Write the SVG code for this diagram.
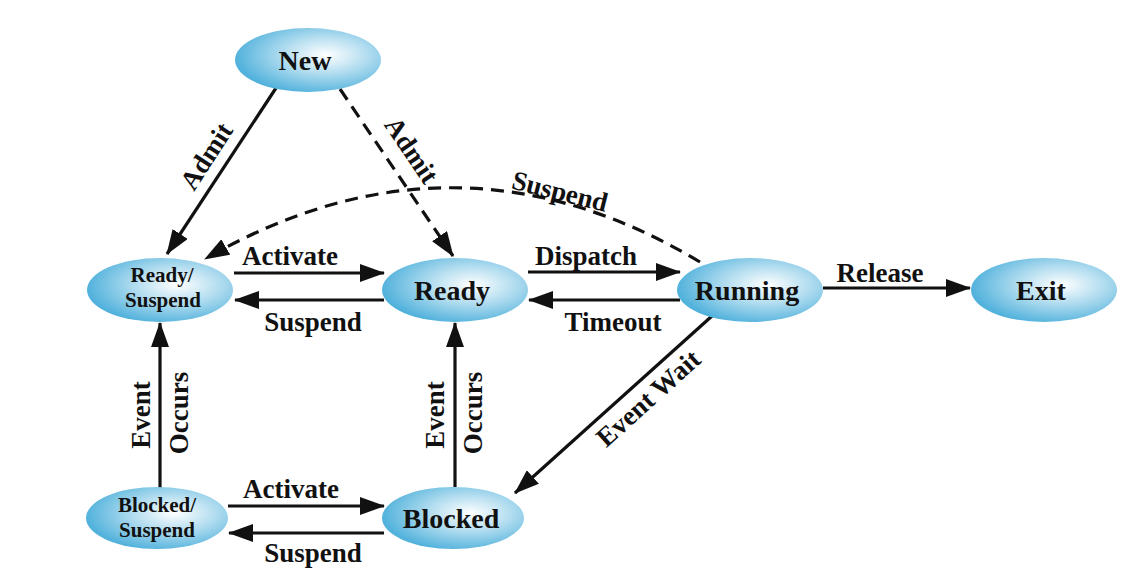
<svg xmlns="http://www.w3.org/2000/svg" width="1146" height="580" viewBox="0 0 1146 580">
<defs>
<radialGradient id="g" cx="0.62" cy="0.42" r="0.62" fx="0.62" fy="0.42">
<stop offset="0" stop-color="#ffffff"/>
<stop offset="0.45" stop-color="#b5def0"/>
<stop offset="1" stop-color="#52b2dc"/>
</radialGradient>
<marker id="a" markerUnits="userSpaceOnUse" markerWidth="26" markerHeight="18" refX="24" refY="9" orient="auto">
<path d="M0,0 L25,9 L0,18 z" fill="#111"/>
</marker>
<style>
.n{fill:url(#g);stroke:none}
.t{font-family:"Liberation Serif","Times New Roman",serif;font-weight:bold;fill:#111;text-anchor:middle}
.big{font-size:28px}
.sm{font-size:21px}
.l{font-size:27px}
.c{stroke:#111;stroke-width:3.2;fill:none;marker-end:url(#a)}
.d{stroke-dasharray:13 8}
</style>
</defs>
<g id="connectors">
<line class="c" x1="276" y1="88" x2="167" y2="254"/>
<line class="c d" x1="340" y1="89" x2="453" y2="256"/>
<path class="c d" d="M700,262 Q455,115 205,259"/>
<line class="c" x1="234" y1="273" x2="384" y2="273"/>
<line class="c" x1="384" y1="300" x2="235" y2="300"/>
<line class="c" x1="528" y1="272" x2="680" y2="272"/>
<line class="c" x1="680" y1="300" x2="529" y2="300"/>
<line class="c" x1="823" y1="288" x2="970" y2="288"/>
<line class="c" x1="160" y1="488" x2="160" y2="323"/>
<line class="c" x1="455" y1="487" x2="455" y2="323"/>
<line class="c" x1="712" y1="316" x2="515" y2="493"/>
<line class="c" x1="228" y1="506" x2="384" y2="506"/>
<line class="c" x1="384" y1="533" x2="229" y2="533"/>
<text class="t l" transform="translate(206,156) rotate(-57)" dy="0.35em">Admit</text>
<text class="t l" transform="translate(412,150) rotate(56)" dy="0.35em">Admit</text>
<text class="t l" transform="translate(560,191) rotate(14)" dy="0.35em">Suspend</text>
<text class="t l" x="290" y="265">Activate</text>
<text class="t l" x="313" y="331">Suspend</text>
<text class="t l" x="586" y="265">Dispatch</text>
<text class="t l" x="613" y="331">Timeout</text>
<text class="t l" x="880" y="282">Release</text>
<text class="t l" transform="translate(141,415) rotate(-90)" dy="0.35em">Event</text>
<text class="t l" transform="translate(179,413) rotate(-90)" dy="0.35em">Occurs</text>
<text class="t l" transform="translate(435,415) rotate(-90)" dy="0.35em">Event</text>
<text class="t l" transform="translate(473,413) rotate(-90)" dy="0.35em">Occurs</text>
<text class="t l" transform="translate(648,398) rotate(-42)" dy="0.35em">Event Wait</text>
<text class="t l" x="291" y="498">Activate</text>
<text class="t l" x="313" y="562">Suspend</text>
</g>
<g id="new"><ellipse class="n" cx="308" cy="60" rx="73" ry="32"/><text class="t big" x="305" y="70">New</text></g>
<g id="ready-suspend"><ellipse class="n" cx="160" cy="290" rx="73" ry="32"/><text class="t sm" x="162" y="282">Ready/</text><text class="t sm" x="163" y="307">Suspend</text></g>
<g id="ready"><ellipse class="n" cx="455" cy="290" rx="73" ry="32"/><text class="t big" x="452" y="300">Ready</text></g>
<g id="running"><ellipse class="n" cx="750" cy="290" rx="73" ry="32"/><text class="t big" x="747" y="300">Running</text></g>
<g id="exit"><ellipse class="n" cx="1044" cy="290" rx="73" ry="32"/><text class="t big" x="1041" y="300">Exit</text></g>
<g id="blocked-suspend"><ellipse class="n" cx="157" cy="518" rx="71" ry="31"/><text class="t sm" x="157" y="512">Blocked/</text><text class="t sm" x="157" y="537">Suspend</text></g>
<g id="blocked"><ellipse class="n" cx="453" cy="518" rx="71" ry="31"/><text class="t big" x="451" y="528">Blocked</text></g>
</svg>
